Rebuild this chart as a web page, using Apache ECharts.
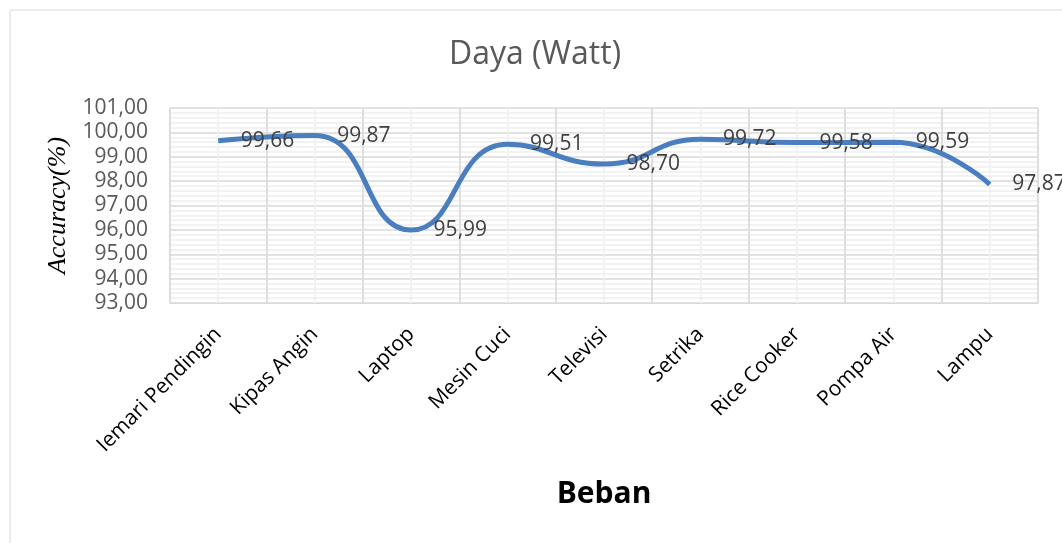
<!DOCTYPE html>
<html>
<head>
<meta charset="utf-8">
<script src="https://cdn.jsdelivr.net/npm/echarts@6/dist/echarts.min.js"></script>
<style>
  html, body { margin: 0; padding: 0; background: #fff; }
  #chart { width: 1062px; height: 543px; }
</style>
</head>
<body>
<div id="chart"></div>
<script>
// data beban
var categories = ['Iemari Pendingin', 'Kipas Angin', 'Laptop', 'Mesin Cuci', 'Televisi', 'Setrika', 'Rice Cooker', 'Pompa Air', 'Lampu'];
var accuracy = [99.66, 99.87, 95.99, 99.51, 98.70, 99.72, 99.58, 99.59, 97.87];
// helper axis, half-category steps for the light vertical lines
var halfSteps = [];
for (var i = 0; i < categories.length * 2; i++) halfSteps.push('');

function koma(v) {
  return Number(v).toFixed(2).replace('.', ',');
}

var chart = echarts.init(document.getElementById('chart'), null, { renderer: 'canvas' });

var option = {
  backgroundColor: '#fff',
  animation: false,
  title: {
    text: 'Daya (Watt)',
    left: 530,
    top: 34,
    textAlign: 'center',
    textStyle: { fontFamily: 'Open Sans', fontWeight: 'normal', fontSize: 32, color: '#595959' }
  },
  graphic: [{
    type: 'rect',
    shape: { x: 10, y: 10, width: 1080, height: 560 },
    style: { fill: null, stroke: '#d9d9d9', lineWidth: 1 },
    silent: true
  }],
  grid: { left: 170, right: 24, top: 108, bottom: 240 },
  xAxis: [{
    type: 'category',
    data: categories,
    boundaryGap: true,
    name: 'Beban',
    nameLocation: 'middle',
    nameGap: 176,
    nameTextStyle: { fontFamily: 'Open Sans', fontWeight: 'bold', fontSize: 30, color: '#000' },
    axisLine: { show: true, lineStyle: { color: '#d9d9d9' } },
    axisTick: { show: false },
    axisLabel: {
      interval: 0,
      rotate: 45,
      margin: 28,
      fontFamily: 'Open Sans',
      fontSize: 21,
      color: '#000'
    },
    splitLine: { show: true, interval: 0, lineStyle: { color: '#d9d9d9', width: 1.5 } },
    z: 3
  }, {
    type: 'category',
    data: halfSteps,
    boundaryGap: true,
    position: 'bottom',
    axisLine: { show: false },
    axisTick: { show: false },
    axisLabel: { show: false },
    splitLine: { show: true, interval: 0, lineStyle: { color: '#efefef', width: 1.5 } },
    z: 1
  }],
  yAxis: {
    type: 'value',
    min: 93,
    max: 101,
    interval: 1,
    name: 'Accuracy(%)',
    nameLocation: 'middle',
    nameGap: 96,
    nameTextStyle: { fontFamily: 'Liberation Serif', fontStyle: 'italic', fontSize: 26, color: '#000' },
    axisLine: { show: true, lineStyle: { color: '#d9d9d9', width: 1.5 } },
    axisTick: { show: false },
    axisLabel: {
      margin: 22,
      fontFamily: 'Open Sans',
      fontSize: 21,
      color: '#595959',
      formatter: koma
    },
    splitLine: { show: true, lineStyle: { color: '#d9d9d9', width: 1.5 } },
    minorTick: { show: false, splitNumber: 5 },
    minorSplitLine: { show: true, lineStyle: { color: '#eeeeee', width: 1.5 } }
  },
  series: [{
    name: 'Daya (Watt)',
    type: 'line',
    xAxisIndex: 0,
    data: accuracy,
    smooth: 0.5,
    showSymbol: true,
    symbol: 'circle',
    symbolSize: 1,
    itemStyle: { color: 'rgba(0,0,0,0)', borderWidth: 0 },
    lineStyle: { color: '#4a7ebf', width: 5 },
    label: {
      show: true,
      position: 'right',
      distance: 22,
      fontFamily: 'Open Sans',
      fontSize: 21,
      color: '#404040',
      formatter: function (p) { return koma(p.value); }
    },
    labelLayout: { hideOverlap: false },
    z: 5
  }]
};

chart.setOption(option);
</script>
</body>
</html>
